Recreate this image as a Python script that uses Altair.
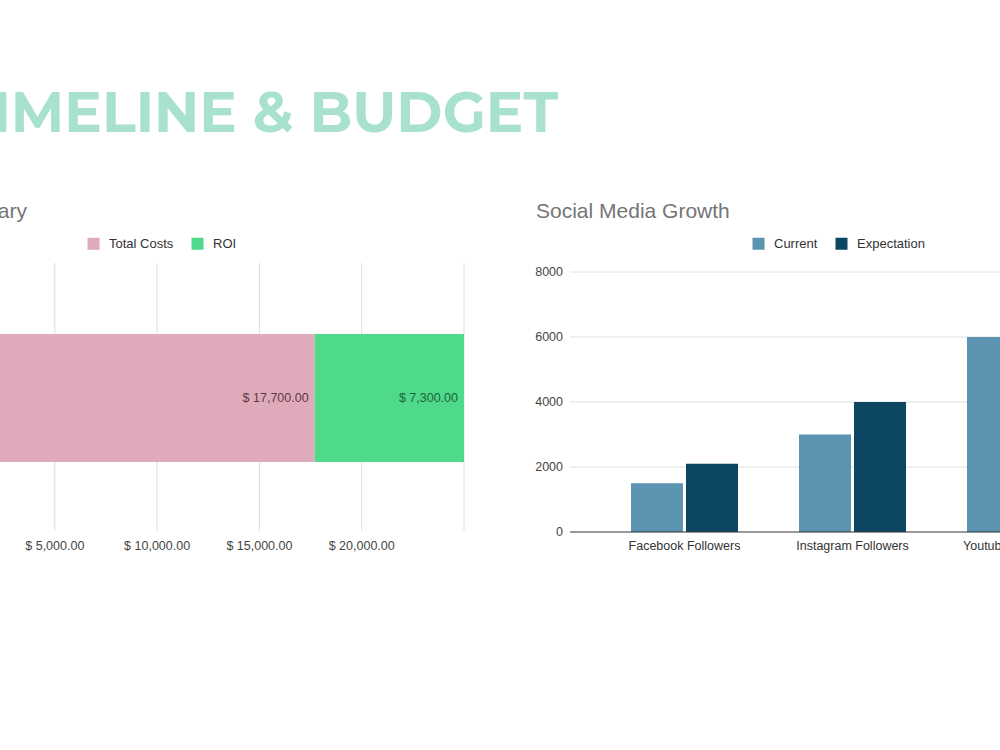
import altair as alt
import pandas as pd

# ---- data ----
budget_series = ["Total Costs", "ROI"]
budget_values = [17700, 7300]
budget_colors = ["#dfabba", "#4fd98b"]
budget_label_colors = ["#613646", "#1d6338"]
budget_ticks = [5000, 10000, 15000, 20000, 25000]

platforms = ["Facebook Followers", "Instagram Followers", "Youtube Subscribers"]
current = [1500, 3000, 6000]
expectation = [2100, 4000, 8000]
growth_series = ["Current", "Expectation"]
growth_colors = ["#5b93b1", "#0c4662"]
growth_ticks = [0, 2000, 4000, 6000, 8000]

FONT = "Liberation Sans"

# ---- tables ----
budget = pd.DataFrame({"series": budget_series, "value": budget_values})
budget["end"] = budget["value"].cumsum()
budget["start"] = budget["end"] - budget["value"]
budget["label"] = budget["value"].map(lambda v: f"$ {v:,.2f}")

btick = pd.DataFrame({"v": budget_ticks})
btick["label"] = btick["v"].map(lambda v: f"$ {v:,.2f}")

growth = pd.DataFrame({
    "platform": platforms * 2,
    "series": ["Current"] * len(platforms) + ["Expectation"] * len(platforms),
    "value": current + expectation,
})
gtick = pd.DataFrame({"v": growth_ticks})
cats = pd.DataFrame({"platform": platforms})

# ---- scales ----
bx = alt.Scale(domain=[0, 25000], range=[-47.5, 464], nice=False, zero=True)
gy = alt.Scale(domain=[0, 8000], range=[532, 272], nice=False)
gx = alt.Scale(domain=platforms, range=[600.5, 1104.5],
               paddingInner=0.363, paddingOuter=0.1815)


def legend(x):
    return alt.Legend(orient="none", legendX=x, legendY=237,
                      direction="horizontal", title=None,
                      symbolType="square", symbolSize=144,
                      symbolStrokeWidth=0, labelFont=FONT,
                      labelFontSize=13, labelColor="#333333",
                      labelOffset=9, columnPadding=17, padding=0)


# ---- page title ----
title = alt.Chart(pd.DataFrame({"t": ["TIMELINE & BUDGET"]})).mark_text(
    align="right", baseline="alphabetic", font="Montserrat, Open Sans",
    fontWeight="bold", fontSize=56, color="#a9e1cf"
).encode(x=alt.value(558), y=alt.value(132), text="t:N")

sub_left = alt.Chart(pd.DataFrame({"t": ["Budget Summary"]})).mark_text(
    align="right", baseline="alphabetic", font=FONT, fontSize=21, color="#757575"
).encode(x=alt.value(27), y=alt.value(218), text="t:N")

sub_right = alt.Chart(pd.DataFrame({"t": ["Social Media Growth"]})).mark_text(
    align="left", baseline="alphabetic", font=FONT, fontSize=21, color="#757575"
).encode(x=alt.value(536), y=alt.value(218), text="t:N")

# ---- budget chart ----
b_grid = alt.Chart(btick).mark_rule(color="#dedede", strokeWidth=1).encode(
    x=alt.X("v:Q", scale=bx, axis=None),
    y=alt.value(263), y2=alt.value(531),
)
b_ticklab = alt.Chart(btick[btick["v"] < 25000]).mark_text(
    font=FONT, fontSize=12.5, color="#444444", baseline="middle"
).encode(x=alt.X("v:Q", scale=bx, axis=None), y=alt.value(546), text="label:N")

b_bar = alt.Chart(budget).mark_bar().encode(
    x=alt.X("start:Q", scale=bx, axis=None),
    x2="end:Q",
    y=alt.value(334), y2=alt.value(462),
    color=alt.Color("series:N", sort=budget_series,
                    scale=alt.Scale(domain=budget_series, range=budget_colors),
                    legend=legend(87)),
)
b_lab = alt.Chart(budget).mark_text(
    align="right", baseline="middle", dx=-6, font=FONT, fontSize=12.5
).encode(
    x=alt.X("end:Q", scale=bx, axis=None),
    y=alt.value(398),
    text="label:N",
    color=alt.Color("series:N", scale=alt.Scale(domain=budget_series, range=budget_label_colors),
                    legend=None),
)

# ---- social media chart ----
g_grid = alt.Chart(gtick[gtick["v"] > 0]).mark_rule(color="#e0e0e0", strokeWidth=1).encode(
    y=alt.Y("v:Q", scale=gy, axis=None), x=alt.value(570), x2=alt.value(1000),
)
g_ticklab = alt.Chart(gtick).mark_text(
    align="right", baseline="middle", font=FONT, fontSize=12.5, color="#444444"
).encode(y=alt.Y("v:Q", scale=gy, axis=None), x=alt.value(563), text="v:N")

g_bar = alt.Chart(growth).mark_bar().encode(
    x=alt.X("platform:N", scale=gx, axis=None, sort=platforms),
    xOffset=alt.XOffset("series:N", sort=growth_series,
                        scale=alt.Scale(paddingInner=0.0545, paddingOuter=0)),
    y=alt.Y("value:Q", scale=gy, axis=None),
    color=alt.Color("series:N", sort=growth_series,
                    scale=alt.Scale(domain=growth_series, range=growth_colors),
                    legend=legend(752)),
)
g_base = alt.Chart(gtick[gtick["v"] == 0]).mark_rule(color="#333333", strokeWidth=1).encode(
    y=alt.Y("v:Q", scale=gy, axis=None), x=alt.value(570), x2=alt.value(1000),
)
g_catlab = alt.Chart(cats).mark_text(
    baseline="middle", font=FONT, fontSize=12.5, color="#333333"
).encode(x=alt.X("platform:N", scale=gx, axis=None, sort=platforms),
         y=alt.value(546), text="platform:N")

chart = alt.layer(
    title, sub_left, sub_right,
    b_grid, b_bar, b_lab, b_ticklab,
    g_grid, g_bar, g_base, g_ticklab, g_catlab,
).resolve_scale(
    x="independent", y="independent", color="independent"
).properties(
    width=1000, height=750, padding=0,
    autosize=alt.AutoSizeParams(type="none"),
    background="white",
).configure_view(stroke=None)

chart.save("out.html", embed_options={"renderer": "svg", "actions": False})
